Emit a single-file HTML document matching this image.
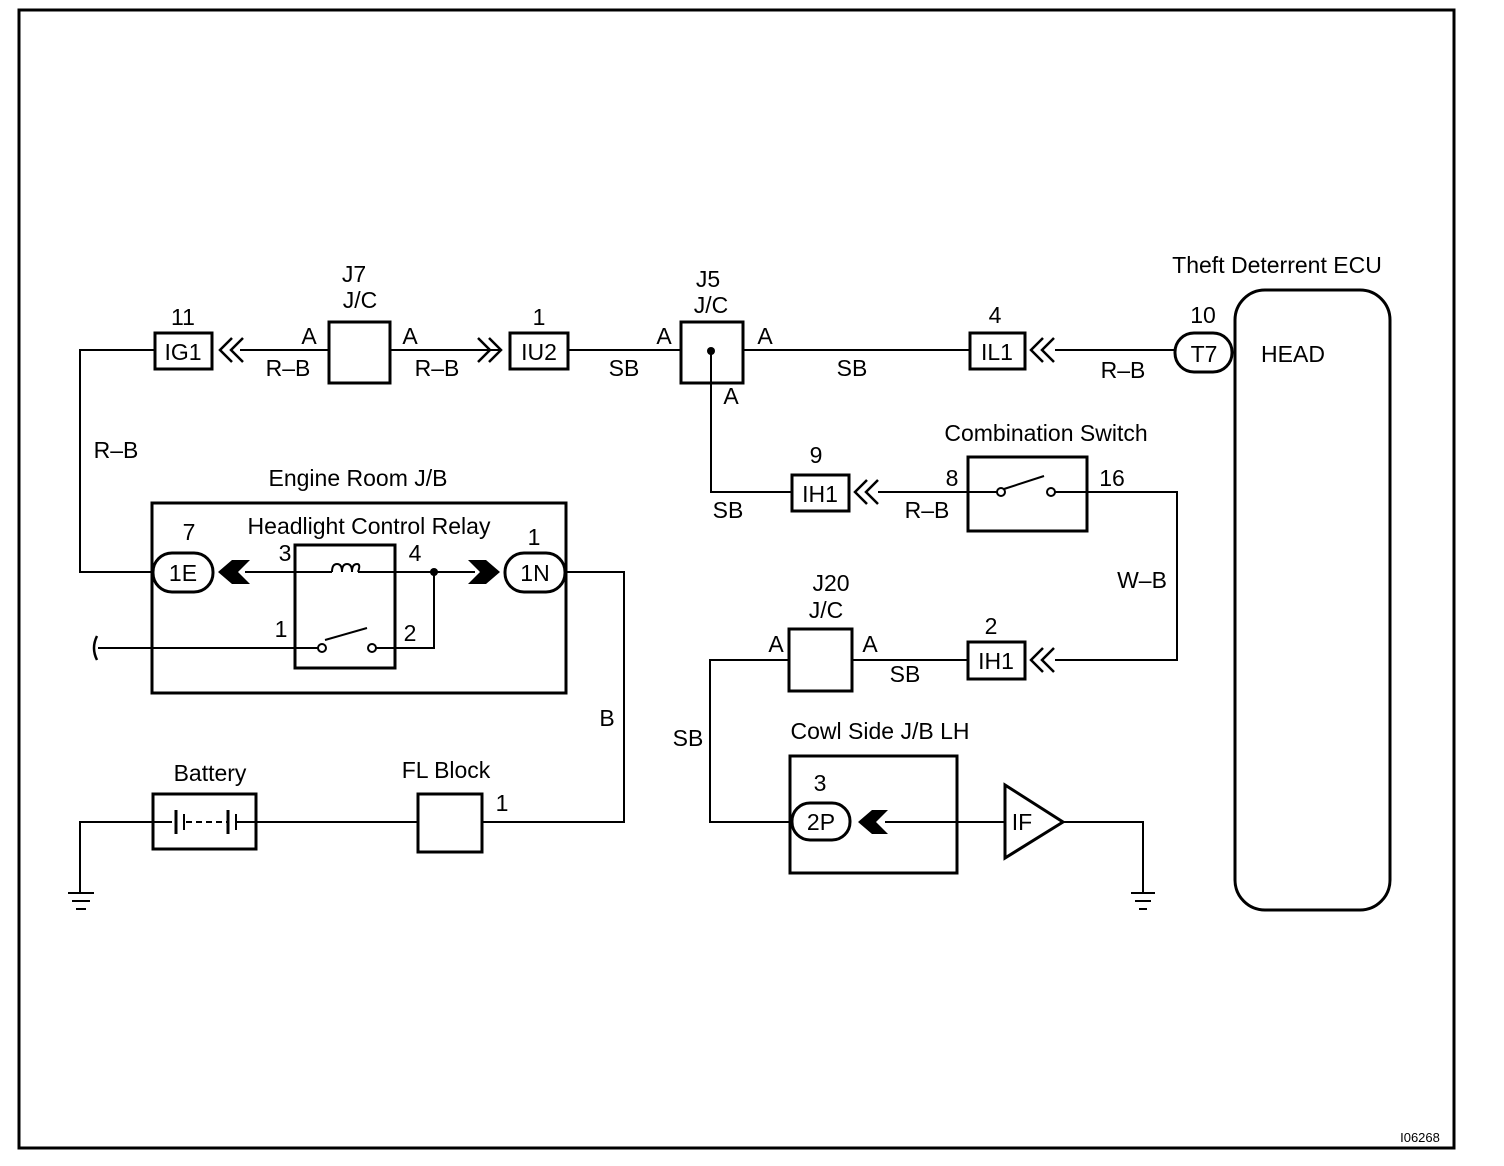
<!DOCTYPE html>
<html><head><style>body{margin:0;background:#fff}svg{display:block}text{font-family:"Liberation Sans",Arial,sans-serif;font-size:23px;fill:#000}</style></head><body>
<svg width="1504" height="1166" viewBox="0 0 1504 1166" xmlns="http://www.w3.org/2000/svg">
<g fill="none" stroke="#000" stroke-width="2">
<rect x="19" y="10" width="1435" height="1138" stroke-width="3"/>
<polyline points="155,350 80,350 80,572 153,572"/>
<line x1="240" y1="350" x2="329" y2="350"/><line x1="390" y1="350" x2="500" y2="350"/>
<line x1="568" y1="350" x2="681" y2="350"/><line x1="743" y1="350" x2="970" y2="350"/>
<line x1="1055" y1="350" x2="1175" y2="350"/>
<rect x="155" y="333" width="57" height="36" stroke-width="3"/>
<g stroke-width="2.5">
<polyline points="232,338 220,350 232,362"/><polyline points="243,338 231,350 243,362"/>
<polyline points="478,338 490,350 478,362"/><polyline points="489,338 501,350 489,362"/>
<polyline points="1043,338 1031,350 1043,362"/><polyline points="1054,338 1042,350 1054,362"/>
<polyline points="867,480 855,492 867,504"/><polyline points="878,480 866,492 878,504"/>
<polyline points="1043,648 1031,660 1043,672"/><polyline points="1054,648 1042,660 1054,672"/>
</g>
<rect x="329" y="322" width="61" height="61" stroke-width="3"/>
<rect x="510" y="333" width="58" height="36" stroke-width="3"/>
<rect x="681" y="322" width="62" height="61" stroke-width="3"/>
<polyline points="711,351 711,492 792,492"/>
<rect x="970" y="333" width="55" height="36" stroke-width="3"/>
<rect x="1175" y="333" width="57" height="39" rx="19" stroke-width="3"/>
<rect x="1235" y="290" width="155" height="620" rx="30" stroke-width="3"/>
<rect x="792" y="475" width="57" height="36" stroke-width="3"/>
<line x1="878" y1="492" x2="968" y2="492"/>
<rect x="968" y="457" width="119" height="74" stroke-width="3"/>
<line x1="968" y1="492" x2="997" y2="492"/><circle cx="1001" cy="492" r="4"/><circle cx="1051" cy="492" r="4"/>
<line x1="1004" y1="489" x2="1044" y2="476"/><line x1="1055" y1="492" x2="1087" y2="492"/>
<polyline points="1087,492 1177,492 1177,660 1055,660"/>
<rect x="968" y="642" width="57" height="37" stroke-width="3"/>
<line x1="852" y1="660" x2="968" y2="660"/>
<rect x="789" y="629" width="63" height="62" stroke-width="3"/>
<polyline points="789,660 710,660 710,822 792,822"/>
<rect x="790" y="756" width="167" height="117" stroke-width="3"/>
<rect x="792" y="803" width="58" height="37" rx="18" stroke-width="3"/>
<line x1="885" y1="822" x2="1005" y2="822"/>
<polygon points="1005,785 1005,858 1063,822" stroke-width="3"/>
<polyline points="1063,822 1143,822 1143,893"/>
<line x1="1131" y1="893" x2="1155" y2="893"/><line x1="1135" y1="901" x2="1151" y2="901"/><line x1="1139" y1="909" x2="1147" y2="909"/>
<rect x="152" y="503" width="414" height="190" stroke-width="3"/>
<rect x="153" y="553" width="60" height="39" rx="19" stroke-width="3"/>
<rect x="505" y="553" width="60" height="39" rx="19" stroke-width="3"/>
<line x1="245" y1="572" x2="332" y2="572"/><line x1="358" y1="572" x2="475" y2="572"/>
<path d="M332,572 q0,-8 5,-8 q5,0 5,8 q0,-8 5,-8 q5,0 5,8 q0,-8 5,-8 q4,0 1,8"/>
<rect x="295" y="545" width="100" height="123" stroke-width="3"/>
<line x1="98" y1="648" x2="318" y2="648"/><path d="M97,636 q-6,12 0,24" stroke-width="2.5"/>
<circle cx="322" cy="648" r="4"/><circle cx="372" cy="648" r="4"/>
<line x1="325" y1="640" x2="367" y2="628"/>
<polyline points="376,648 434,648 434,572"/>
<polyline points="565,572 624,572 624,822 482,822"/>
<rect x="418" y="794" width="64" height="58" stroke-width="3"/>
<line x1="256" y1="822" x2="418" y2="822"/>
<rect x="153" y="794" width="103" height="55" stroke-width="3"/>
<polyline points="153,822 80,822 80,893"/>
<line x1="68" y1="893" x2="94" y2="893"/><line x1="72" y1="901" x2="90" y2="901"/><line x1="76" y1="909" x2="86" y2="909"/>
<line x1="153" y1="822" x2="172" y2="822"/><line x1="176" y1="810" x2="176" y2="834" stroke-width="3"/><line x1="184" y1="814" x2="184" y2="830"/>
<line x1="186" y1="822" x2="228" y2="822" stroke-dasharray="6,4"/>
<line x1="228" y1="810" x2="228" y2="834" stroke-width="3"/><line x1="236" y1="814" x2="236" y2="830"/><line x1="236" y1="822" x2="256" y2="822"/>
</g>
<g fill="#000">
<circle cx="711" cy="351" r="4"/><circle cx="434" cy="572" r="4"/>
<polygon points="218,572 232,560 250,560 238,572 250,584 232,584"/>
<polygon points="500,572 486,560 468,560 480,572 468,584 486,584"/>
<polygon points="858,822 872,810 888,810 876,822 888,834 872,834"/>
</g>
<g text-anchor="middle">
<text x="183" y="325">11</text><text x="183" y="360">IG1</text>
<text x="354" y="282">J7</text><text x="360" y="308">J/C</text>
<text x="309" y="344">A</text><text x="410" y="344">A</text>
<text x="288" y="376">R–B</text><text x="437" y="376">R–B</text>
<text x="539" y="325">1</text><text x="539" y="360">IU2</text>
<text x="624" y="376">SB</text>
<text x="708" y="287">J5</text><text x="711" y="313">J/C</text>
<text x="664" y="344">A</text><text x="765" y="344">A</text><text x="731" y="404">A</text>
<text x="852" y="376">SB</text>
<text x="995" y="323">4</text><text x="997" y="360">IL1</text>
<text x="1123" y="378">R–B</text>
<text x="1203" y="323">10</text><text x="1204" y="362">T7</text>
<text x="1277" y="273">Theft Deterrent ECU</text>
<text x="1293" y="362">HEAD</text>
<text x="1046" y="441">Combination Switch</text>
<text x="816" y="463">9</text><text x="820" y="502">IH1</text>
<text x="952" y="486">8</text><text x="1112" y="486">16</text>
<text x="927" y="518">R–B</text><text x="728" y="518">SB</text>
<text x="116" y="458">R–B</text>
<text x="1142" y="588">W–B</text>
<text x="991" y="634">2</text><text x="996" y="669">IH1</text>
<text x="831" y="591">J20</text><text x="826" y="618">J/C</text>
<text x="776" y="652">A</text><text x="870" y="652">A</text><text x="905" y="682">SB</text>
<text x="688" y="746">SB</text>
<text x="880" y="739">Cowl Side J/B LH</text>
<text x="820" y="791">3</text><text x="821" y="830">2P</text>
<text x="1022" y="830">IF</text>
<text x="358" y="486">Engine Room J/B</text>
<text x="369" y="534">Headlight Control Relay</text>
<text x="189" y="540">7</text><text x="183" y="581">1E</text>
<text x="534" y="545">1</text><text x="535" y="581">1N</text>
<text x="285" y="561">3</text><text x="415" y="561">4</text>
<text x="281" y="637">1</text><text x="410" y="641">2</text>
<text x="607" y="726">B</text>
<text x="210" y="781">Battery</text><text x="446" y="778">FL Block</text>
<text x="502" y="811">1</text>
<text x="1420" y="1142" style="font-size:13px">I06268</text>
</g>
</svg>
</body></html>
